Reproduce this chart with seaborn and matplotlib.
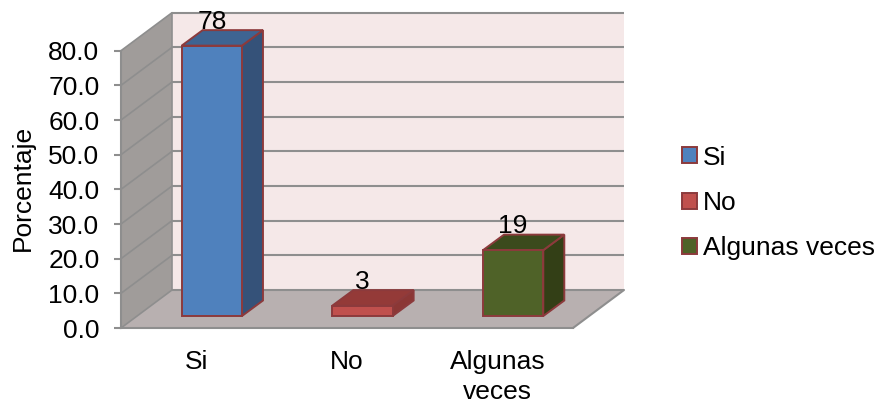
#!/usr/bin/env python3
# 3D-looking Excel column chart, faked with offset transforms on a seaborn barplot

import matplotlib
matplotlib.use("Agg")
import matplotlib.pyplot as plt
import pandas as pd
import seaborn as sns
from matplotlib.patches import Polygon, Rectangle
from matplotlib.transforms import Affine2D, IdentityTransform

CATEGORIES = ["Si", "No", "Algunas veces"]
TICK_LABELS = ["Si", "No", "Algunas\nveces"]
PORCENTAJE = [78, 3, 19]
Y_TICKS = [0, 10, 20, 30, 40, 50, 60, 70, 80]

FRONT = {"Si": "#4F81BD", "No": "#C0504D", "Algunas veces": "#4F6228"}
SIDE = {"Si": "#355279", "No": "#8B3735", "Algunas veces": "#333F16"}
TOP = {"Si": "#3E6492", "No": "#943A38", "Algunas veces": "#3B4A1C"}
EDGE = "#8C3A3C"
GREY = "#8E8E8E"
FONT = 19

W, H = 878, 403
WALL = (51, 38)       # how far the back wall sits behind the front plane (px)
INSET = (15.5, 12)    # bars stand a bit behind the front plane
DEPTH = (21, 15.5)    # bar depth


def shifted(ax, d):
    return ax.transData + Affine2D().translate(*d)


def faces(ax, bar, name):
    x0, x1 = bar.get_x(), bar.get_x() + bar.get_width()
    h = bar.get_height()
    pts = shifted(ax, INSET).transform([(x0, 0), (x1, 0), (x1, h), (x0, h)])
    (_, _), br, tr, tl = pts
    dx, dy = DEPTH
    side = [br, br + (dx, dy), tr + (dx, dy), tr]
    top = [tl, tr, tr + (dx, dy), tl + (dx, dy)]
    for verts, color in ((side, SIDE[name]), (top, TOP[name])):
        ax.add_patch(Polygon(verts, closed=True, facecolor=color, edgecolor=EDGE, linewidth=1.4,
                             transform=IdentityTransform(), clip_on=False, zorder=5))


def draw_room(ax):
    back = shifted(ax, WALL)
    ident = IdentityTransform()
    ax.add_patch(Rectangle((-0.5, 0), 3, 80, facecolor="#F5E8E8", edgecolor="none",
                           transform=back, clip_on=False, zorder=0))
    a, b = ax.transData.transform([(-0.5, 0), (2.5, 0)])
    c = ax.transData.transform((-0.5, 80))
    wx, wy = WALL
    ax.add_patch(Polygon([a, b, b + (wx, wy), a + (wx, wy)], facecolor="#B8B0B0", edgecolor="none",
                         transform=ident, clip_on=False, zorder=1))
    ax.add_patch(Polygon([a, c, c + (wx, wy), a + (wx, wy)], facecolor="#A09C9A", edgecolor="none",
                         transform=ident, clip_on=False, zorder=1))
    ax.hlines(Y_TICKS, -0.5, 2.5, color=GREY, linewidth=1.5, transform=back, clip_on=False, zorder=2)
    ax.plot([a[0] + wx] * 2, [a[1] + wy, c[1] + wy], color=GREY, linewidth=1.2,
            transform=ident, clip_on=False, zorder=2)
    ax.plot([b[0], b[0] + wx], [b[1], b[1] + wy], color=GREY, linewidth=1.5,
            transform=ident, clip_on=False, zorder=2)
    for t in Y_TICKS:
        p = ax.transData.transform((-0.5, t))
        ax.plot([p[0], p[0] + wx], [p[1], p[1] + wy], color=GREY, linewidth=1.2,
                transform=ident, clip_on=False, zorder=2)


def main():
    sns.set_theme(style="white")
    plt.rcParams["font.family"] = ["Liberation Sans", "DejaVu Sans"]

    df = pd.DataFrame({"respuesta": CATEGORIES, "porcentaje": PORCENTAJE})
    fig = plt.figure(figsize=(W / 100, H / 100), dpi=100)
    ax = fig.add_axes([121 / W, (H - 328) / H, 452 / W, 277.3 / H])

    sns.barplot(data=df, x="respuesta", y="porcentaje", hue="respuesta", hue_order=CATEGORIES,
                palette=FRONT, width=0.4, dodge=False, legend=True, saturation=1,
                edgecolor=EDGE, linewidth=1.4, ax=ax)
    ax.set_xlim(-0.5, 2.5)
    ax.set_ylim(0, 80)
    ax.patch.set_alpha(0)

    bars = list(ax.patches)
    for bar, name, val in zip(bars, CATEGORIES, PORCENTAJE):
        bar.set_transform(shifted(ax, INSET))
        bar.set_clip_on(False)
        bar.set_zorder(6)
        faces(ax, bar, name)
        ax.annotate(str(val), (bar.get_x() + bar.get_width() / 2, val),
                    xycoords=shifted(ax, INSET), xytext=(0, 12), textcoords="offset points",
                    ha="center", va="baseline", fontsize=FONT, color="black", zorder=7,
                    annotation_clip=False)
    draw_room(ax)

    ax.set_yticks(Y_TICKS, [f"{t:.1f}" for t in Y_TICKS])
    ax.set_xticks(range(3), TICK_LABELS)
    ax.tick_params(axis="y", length=5, width=1.5, color=GREY, left=True, pad=10.5, labelsize=FONT,
                   labelcolor="black")
    ax.tick_params(axis="x", length=0, pad=16, labelsize=FONT, labelcolor="black")
    for lab in ax.get_xticklabels():
        lab.set_linespacing(1.3)
    ax.set_xlabel("")
    ax.set_ylabel("Porcentaje", fontsize=FONT, color="black")
    ax.yaxis.set_label_coords(35 / W, (H - 188) / H, transform=fig.transFigure)
    sns.despine(ax=ax)
    for side in ("left", "bottom"):
        ax.spines[side].set_color(GREY)
        ax.spines[side].set_linewidth(1.5)
        ax.spines[side].set_zorder(3)

    sns.move_legend(ax, loc="center left", bbox_to_anchor=(658 / W, (H - 203) / H),
                    bbox_transform=fig.transFigure, frameon=False, title=None, fontsize=FONT,
                    handlelength=0.57, handleheight=0.57, handletextpad=0.23, labelspacing=0.81,
                    labelcolor="black")

    fig.savefig("out.png", dpi=100)


if __name__ == "__main__":
    main()
